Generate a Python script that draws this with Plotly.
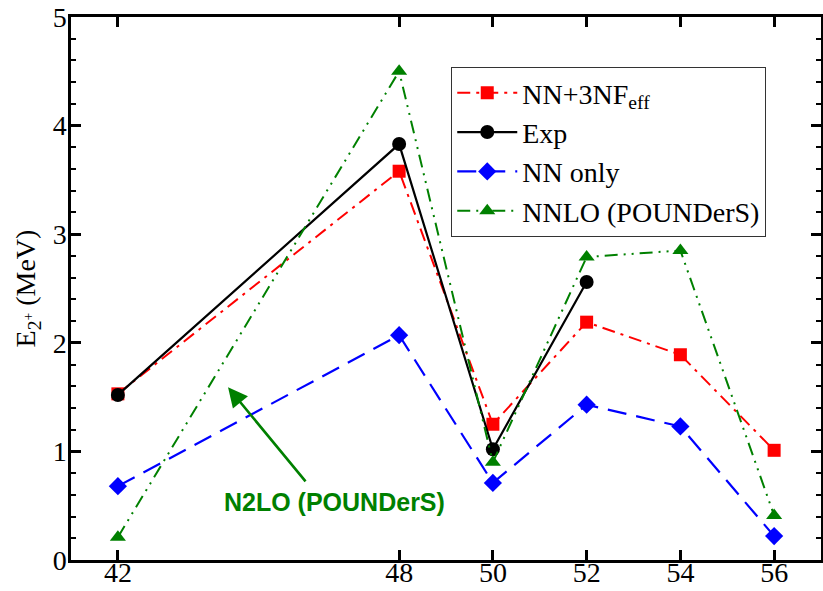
import plotly.graph_objects as go

# Mass numbers
mass = [42, 48, 50, 52, 54, 56]
mass_exp = [42, 48, 50, 52]

# First 2+ excitation energies (MeV)
e_nn3nf = [1.53, 3.58, 1.25, 2.19, 1.89, 1.01]
e_exp = [1.52, 3.83, 1.02, 2.56]
e_nn = [0.68, 2.07, 0.71, 1.43, 1.23, 0.22]
e_nnlo = [0.21, 4.50, 0.90, 2.79, 2.85, 0.41]

x_ticks = [42, 48, 50, 52, 54, 56]

serif = "Liberation Serif"

fig = go.Figure()

fig.add_trace(go.Scatter(
    x=mass, y=e_nn3nf, name="NN+3NF<sub>eff</sub>", mode="lines+markers",
    line=dict(color="#ff0000", width=2, dash="13px,6px,3px,6px"),
    marker=dict(symbol="square", size=13, color="#ff0000"),
))
fig.add_trace(go.Scatter(
    x=mass_exp, y=e_exp, name="Exp", mode="lines+markers",
    line=dict(color="#000000", width=2.2),
    marker=dict(symbol="circle", size=14, color="#000000"),
))
fig.add_trace(go.Scatter(
    x=mass, y=e_nn, name="NN only", mode="lines+markers",
    line=dict(color="#0000ff", width=2.2, dash="19px,10px"),
    marker=dict(symbol="diamond", size=14, color="#0000ff"),
))
fig.add_trace(go.Scatter(
    x=mass, y=e_nnlo, name="NNLO (POUNDerS)", mode="lines+markers",
    line=dict(color="#008000", width=2, dash="13px,6px,2px,6px,2px,6px"),
    marker=dict(symbol="triangle-up", size=14, color="#008000"),
))

# Arrow pointing at the NNLO curve with its label
fig.add_annotation(
    x=44.35, y=1.59, ax=46.03, ay=0.71, xref="x", yref="y", axref="x", ayref="y",
    showarrow=True, arrowhead=2, arrowsize=1.5, arrowwidth=2.6, arrowcolor="#008000",
    text="",
)
fig.add_annotation(
    x=46.63, y=0.53, xref="x", yref="y", showarrow=False,
    text="<b>N2LO (POUNDerS)</b>",
    font=dict(family="Liberation Sans", size=25, color="#008000"),
)

fig.update_xaxes(
    range=[41, 57], tickvals=x_ticks, ticktext=[str(v) for v in x_ticks],
    ticks="inside", ticklen=10, tickwidth=2.5, tickcolor="black",
    showline=True, linewidth=2.5, linecolor="black", mirror="ticks",
    showgrid=False, zeroline=False, automargin=False,
    ticklabelstandoff=-14,
    tickfont=dict(family=serif, size=28, color="black"),
)
fig.update_yaxes(
    range=[0, 5], dtick=1,
    ticks="inside", ticklen=10, tickwidth=2.5, tickcolor="black",
    minor=dict(dtick=0.2, ticks="inside", ticklen=5, tickwidth=1.5, tickcolor="black"),
    showline=True, linewidth=2.5, linecolor="black", mirror="ticks",
    showgrid=False, zeroline=False, automargin=False,
    ticklabelstandoff=-4,
    tickfont=dict(family=serif, size=28, color="black"),
    title=dict(text="E<sub>2<sup>+</sup></sub> (MeV)", font=dict(family=serif, size=28, color="black"), standoff=9),
)

fig.update_layout(
    width=823, height=591,
    margin=dict(l=71, r=2, t=17, b=31),
    plot_bgcolor="white", paper_bgcolor="white",
    showlegend=True,
    legend=dict(
        x=0.507, y=0.908, xanchor="left", yanchor="top",
        bgcolor="white", bordercolor="#333333", borderwidth=1,
        font=dict(family=serif, size=28, color="black"),
        itemwidth=60, tracegroupgap=0,
    ),
)

fig.write_html("out.html")
